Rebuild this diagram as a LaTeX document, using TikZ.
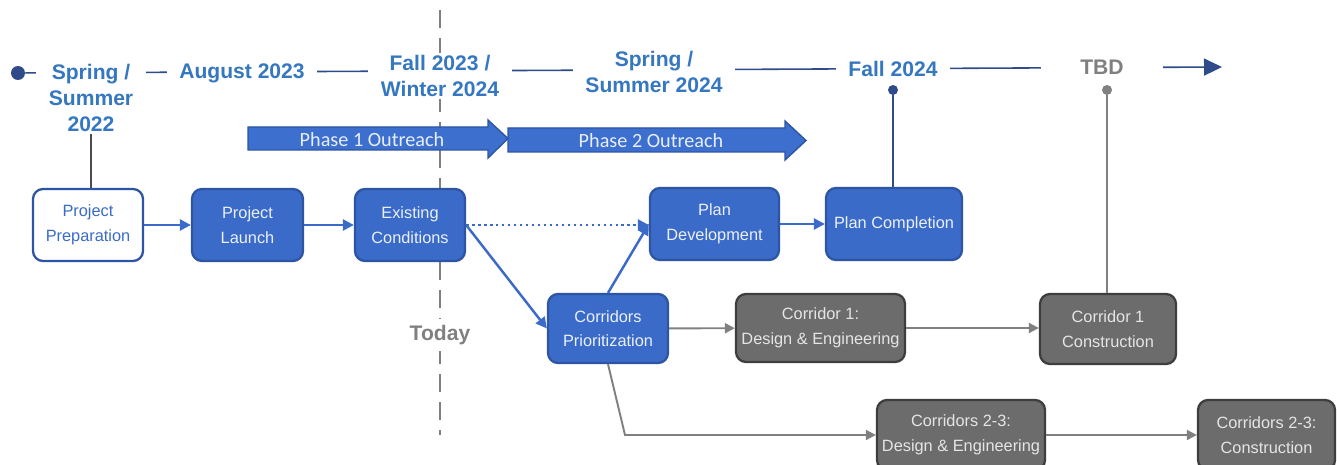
\documentclass[tikz,border=0pt]{standalone}
\usepackage{fontspec}
\setmainfont{Liberation Sans}
\newfontfamily\phasefont{Carlito}
\usetikzlibrary{arrows.meta}

\definecolor{boxblue}{HTML}{3B6BC8}
\definecolor{boxline}{HTML}{2D55A3}
\definecolor{dateblue}{HTML}{3577C0}
\definecolor{tlblue}{HTML}{2F4B8A}
\definecolor{boxgray}{HTML}{6C6C6C}
\definecolor{grayline}{HTML}{3E3E3E}
\definecolor{arrgray}{HTML}{808080}
\definecolor{phaseblue}{HTML}{3D70CE}

\tikzset{
  bluebox/.style={draw=boxline,fill=boxblue,line width=1.3pt,rounded corners=0.2cm,
    text=white!90!boxblue,align=center,inner sep=2pt,font=\fontsize{9.3}{14}\selectfont},
  graybox/.style={bluebox,draw=grayline,fill=boxgray,text=white!90!black},
  datelabel/.style={fill=white,text=dateblue,align=center,inner xsep=0.25cm,inner ysep=1pt,
    font=\fontsize{12}{15}\selectfont\bfseries},
  bluearrow/.style={draw=boxblue,line width=1.4pt,-{Triangle[length=2.2mm,width=2.2mm]}},
  grayarrow/.style={draw=arrgray,line width=1.1pt,-{Triangle[length=2mm,width=2mm]}},
  phasearrow/.style={draw=boxline,fill=phaseblue,line width=0.8pt},
  phasetext/.style={text=white!88!phaseblue,font=\phasefont\fontsize{11.5}{13}\selectfont},
  dot/.style={circle,inner sep=0pt,minimum size=0.2cm},
}

\begin{document}
\begin{tikzpicture}
        \path[use as bounding box,fill=white] (0,0) rectangle (26.74,-9.30);

        %%%%%%%%%% Oggi %%%%%%%%%%
        \coordinate (todaytop) at (8.80,-0.2);
        \coordinate (todaybot) at (8.80,-8.70);
        \draw[arrgray,line width=1.6pt,dash pattern=on 0.36cm off 0.2cm] (todaytop) -- (todaybot);
        \node (today) at (8.80,-6.70) [fill=white,text=gray,font=\fontsize{12}{15}\selectfont\bfseries] {Today};

        %%%%%%%%%% Linea del tempo %%%%%%%%%%
        \node (start) at (0.36,-1.46) [dot,fill=tlblue,minimum size=0.28cm] {};
        \coordinate (tlend) at (24.44,-1.34);
        \draw[tlblue,line width=0.9pt,-{Triangle[length=0.36cm,width=0.34cm]}] (start) -- (tlend);

        \node (d22) at (1.82,-1.96) [datelabel] {Spring /\\Summer\\2022};
        \node (d23) at (4.84,-1.46) [datelabel] {August 2023};
        \node (d24a) at (8.80,-1.52) [datelabel] {Fall 2023 /\\Winter 2024};
        \node (d24b) at (13.08,-1.44) [datelabel] {Spring /\\Summer 2024};
        \node (d24c) at (17.86,-1.38) [datelabel] {Fall 2024};
        \node (tbd) at (22.04,-1.34) [datelabel,text=gray,minimum width=2.44cm] {TBD};

        %%%%%%%%%% Outreach %%%%%%%%%%
        \draw[phasearrow] (4.96,-2.54) -- (9.76,-2.54) -- (9.76,-2.40) -- (10.16,-2.77)
            -- (9.76,-3.16) -- (9.76,-3.00) -- (4.96,-3.00) -- cycle;
        \node (ph1) at (7.44,-2.79) [phasetext] {Phase 1 Outreach};
        \draw[phasearrow] (10.16,-2.56) -- (15.70,-2.56) -- (15.70,-2.42) -- (16.12,-2.81)
            -- (15.70,-3.20) -- (15.70,-3.04) -- (10.16,-3.04) -- cycle;
        \node (ph2) at (13.02,-2.81) [phasetext] {Phase 2 Outreach};

        %%%%%%%%%% Nodi %%%%%%%%%%
        \node (prep) at (1.76,-4.50) [bluebox,fill=white,text=boxblue,minimum width=2.2cm,minimum height=1.44cm] {Project\\Preparation};
        \node (launch) at (4.95,-4.50) [bluebox,minimum width=2.22cm,minimum height=1.44cm] {Project\\Launch};
        \node (exist) at (8.20,-4.50) [bluebox,minimum width=2.2cm,minimum height=1.44cm] {Existing\\Conditions};
        \node (plandev) at (14.29,-4.48) [bluebox,minimum width=2.58cm,minimum height=1.44cm] {Plan\\Development};
        \node (plancomp) at (17.88,-4.48) [bluebox,minimum width=2.72cm,minimum height=1.44cm] {Plan Completion};
        \node (corprio) at (12.16,-6.57) [bluebox,minimum width=2.4cm,minimum height=1.38cm] {Corridors\\Prioritization};
        \node (cor1de) at (16.41,-6.56) [graybox,minimum width=3.38cm,minimum height=1.36cm] {Corridor 1:\\Design \& Engineering};
        \node (cor1con) at (22.16,-6.58) [graybox,minimum width=2.72cm,minimum height=1.40cm] {Corridor 1\\Construction};
        \node (cor23de) at (19.22,-8.70) [graybox,minimum width=3.36cm,minimum height=1.40cm] {Corridors 2-3:\\Design \& Engineering};
        \node (cor23con) at (25.33,-8.70) [graybox,minimum width=2.74cm,minimum height=1.40cm] {Corridors 2-3:\\Construction};

        \node (fdot) at (17.86,-1.80) [dot,fill=tlblue] {};
        \node (tdot) at (22.14,-1.80) [dot,fill=gray] {};

        %%%%%%%%% Frecce %%%%%%%%%
        \draw[black!70,line width=0.6pt] (d22.south) -- (d22.south |- prep.north);
        \draw[tlblue,line width=0.8pt] (fdot) -- (fdot |- plancomp.north);
        \draw[gray,line width=0.8pt] (tdot) -- (tdot |- cor1con.north);

        \draw[bluearrow] (prep) -- (launch);
        \draw[bluearrow] (launch) -- (exist);
        \draw[bluearrow,dotted] (exist.east) -- (exist.east -| plandev.west);
        \draw[bluearrow] (exist.east) -- (corprio.west);
        \draw[bluearrow] (corprio.north) -- (plandev.west);
        \draw[bluearrow] (plandev) -- (plancomp);

        \draw[grayarrow] (corprio) -- (cor1de);
        \draw[grayarrow] (cor1de) -- (cor1de -| cor1con.west);
        \draw[grayarrow] (corprio.south) -- ([xshift=0.34cm]corprio.south |- cor23de.west) -- (cor23de.west);
        \draw[grayarrow] (cor23de) -- (cor23con);
    \end{tikzpicture}
\end{document}
